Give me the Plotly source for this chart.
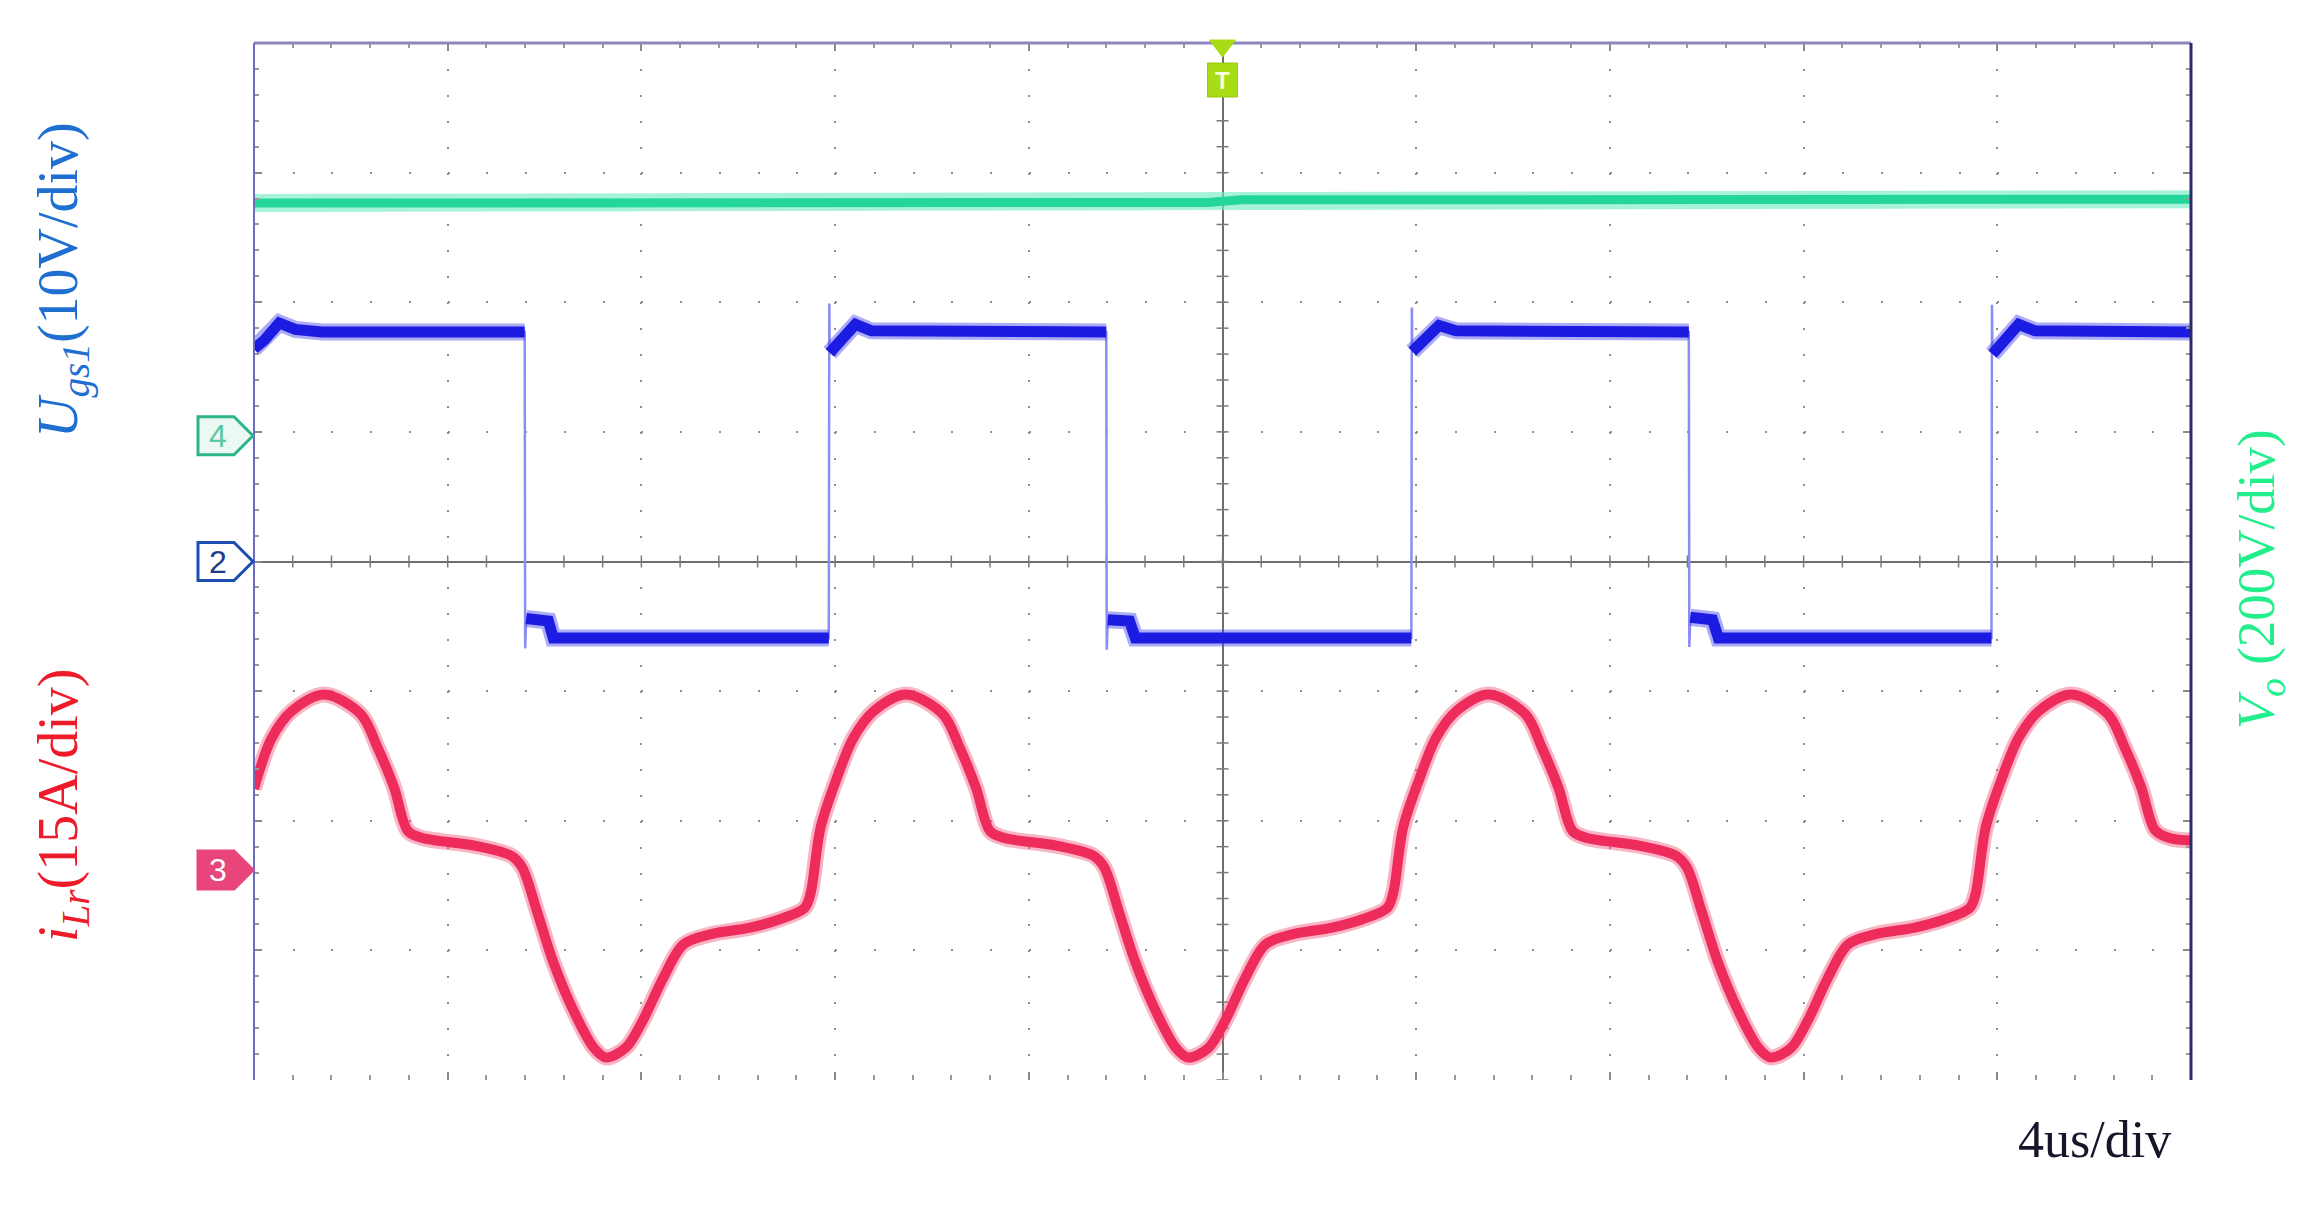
import plotly.graph_objects as go

# ---------------- data ----------------
# time in microseconds, trigger at 0, 4 us/div, 10 divisions
t_ugs = [-20.00, -19.78, -19.48, -19.15, -18.60, -16.80,
         -14.41, -14.40, -14.38, -13.92, -13.82, -11.20,
         -8.13, -8.12, -8.11, -7.58, -7.25, -5.10,
         -2.40, -2.39, -2.37, -1.92, -1.80, 0.90,
         3.90, 3.91, 3.92, 4.47, 4.82, 7.10,
         9.63, 9.64, 9.66, 10.12, 10.24, 12.90,
         15.88, 15.89, 15.90, 16.44, 16.78, 20.00]
v_ugs = [16.4, 17.1, 18.4, 17.9, 17.7, 17.7,
         17.7, -6.7, -4.4, -4.6, -5.9, -5.9,
         -5.9, 19.9, 16.1, 18.3, 17.8, 17.7,
         17.7, -6.8, -4.5, -4.6, -5.9, -6.0,
         -5.9, 19.6, 16.2, 18.2, 17.8, 17.7,
         17.7, -6.6, -4.3, -4.5, -5.9, -5.9,
         -5.9, 19.8, 16.0, 18.3, 17.8, 17.7]

t_ilr = [-20.00, -19.64, -19.22, -18.55, -17.79, -17.45, -17.11, -16.82, -16.52, -15.43,
         -14.67, -14.46, -14.16, -13.83, -13.40, -12.98, -12.73, -12.31, -11.97, -11.55,
         -11.13, -10.54, -9.78, -9.14,
         -8.63, -8.51, -8.30, -7.96, -7.62, -7.20, -6.53, -5.77, -5.43, -5.09,
         -4.80, -4.50, -3.41, -2.65, -2.44, -2.14, -1.81, -1.38, -0.96, -0.71,
         -0.29, 0.05, 0.47, 0.89, 1.48, 2.24, 2.89,
         3.40, 3.52, 3.73, 4.07, 4.41, 4.83, 5.50, 6.26, 6.60, 6.94,
         7.23, 7.53, 8.62, 9.38, 9.59, 9.89, 10.22, 10.65, 11.07, 11.32,
         11.74, 12.08, 12.50, 12.92, 13.51, 14.27, 14.92,
         15.43, 15.55, 15.76, 16.10, 16.44, 16.86, 17.53, 18.29, 18.63, 18.97,
         19.26, 19.56, 20.00]
i_ilr = [9.4, 15.2, 18.4, 20.3, 18.0, 14.2, 9.6, 4.5, 3.7, 2.8,
         1.6, 0.3, -4.7, -10.5, -16.3, -20.6, -21.7, -20.5, -17.4, -12.5,
         -8.6, -7.4, -6.7, -5.7,
         -4.4, -2.8, 4.9, 10.7, 15.3, 18.4, 20.3, 18.0, 14.2, 9.5,
         4.5, 3.7, 2.8, 1.6, 0.3, -4.8, -10.5, -16.3, -20.6, -21.7,
         -20.6, -17.5, -12.5, -8.6, -7.4, -6.7, -5.7,
         -4.4, -2.8, 4.9, 10.6, 15.3, 18.4, 20.3, 18.0, 14.1, 9.5,
         4.5, 3.7, 2.8, 1.6, 0.3, -4.7, -10.5, -16.3, -20.6, -21.7,
         -20.6, -17.5, -12.5, -8.6, -7.4, -6.7, -5.7,
         -4.4, -2.8, 4.9, 10.7, 15.3, 18.4, 20.3, 18.0, 14.2, 9.6,
         4.6, 3.7, 3.4]

t_vo = [-20.0, -0.3, 0.4, 20.0]
v_vo = [359, 360, 364, 365]

# channel settings (scale per division, ground-marker offset in divisions)
CH2_SCALE, CH2_OFFSET = 10.0, 0.0     # Ugs1, V/div
CH3_SCALE, CH3_OFFSET = 15.0, -2.38   # iLr, A/div
CH4_SCALE, CH4_OFFSET = 200.0, 0.97   # Vo, V/div
T_DIV = 4.0                           # us/div

# ---------------- geometry ----------------
BODY = 8                  # default page margin of the html body
W, H = 2313 - 2 * BODY, 1209 - 2 * BODY
PLOT_L, PLOT_T, PW, PH = 254, 43, 1937, 1037   # wanted plot box in window pixels
ML, MT = PLOT_L - BODY, PLOT_T - BODY
MR, MB = W - ML - PW, H - MT - PH
X_RANGE = [-5 * T_DIV, 5 * T_DIV]
Y_RANGE = [-4, 4]
minor_x_px = PW / 50.0
minor_y_px = PH / 40.0


def to_div(vals, off, scale):
    return [off + v / scale for v in vals]


def px2paper(px, py):
    # px, py are window pixel positions
    return (px - PLOT_L) / PW, (PLOT_T + PH - py) / PH


y_ugs = to_div(v_ugs, CH2_OFFSET, CH2_SCALE)
y_ilr = to_div(i_ilr, CH3_OFFSET, CH3_SCALE)
y_vo = to_div(v_vo, CH4_OFFSET, CH4_SCALE)

# thick plateau trace for the gate signal: break at the fast edges
bx, by = [], []
for k, (t, v) in enumerate(zip(t_ugs, y_ugs)):
    if k > 0 and t - t_ugs[k - 1] < 0.025:
        bx.append(None)
        by.append(None)
    bx.append(t)
    by.append(v)

fig = go.Figure()
# Vo (green)
fig.add_trace(go.Scatter(x=t_vo, y=y_vo, mode="lines", hoverinfo="skip",
                         line=dict(color="rgba(120,236,196,0.65)", width=18)))
fig.add_trace(go.Scatter(x=t_vo, y=y_vo, mode="lines", hoverinfo="skip",
                         line=dict(color="#25D69C", width=9)))
# Ugs1 (blue)
fig.add_trace(go.Scatter(x=t_ugs, y=y_ugs, mode="lines", hoverinfo="skip",
                         line=dict(color="#8C8CF6", width=2.5)))
fig.add_trace(go.Scatter(x=bx, y=by, mode="lines", hoverinfo="skip",
                         line=dict(color="rgba(70,70,236,0.45)", width=17)))
fig.add_trace(go.Scatter(x=bx, y=by, mode="lines", hoverinfo="skip",
                         line=dict(color="#1B1BE2", width=11)))
# iLr (red)
fig.add_trace(go.Scatter(x=t_ilr, y=y_ilr, mode="lines", hoverinfo="skip",
                         line=dict(color="rgba(242,90,128,0.45)", width=16,
                                   shape="spline", smoothing=0.9)))
fig.add_trace(go.Scatter(x=t_ilr, y=y_ilr, mode="lines", hoverinfo="skip",
                         line=dict(color="#EE2C5C", width=10,
                                   shape="spline", smoothing=0.9)))

shapes = []
# borders
shapes.append(dict(type="line", xref="paper", yref="paper", x0=0, x1=1, y0=1, y1=1,
                   line=dict(color="#8E86BE", width=3), layer="above"))
shapes.append(dict(type="line", xref="paper", yref="paper", x0=0, x1=0, y0=0, y1=1,
                   line=dict(color="#6C6CC6", width=2), layer="above"))
shapes.append(dict(type="line", xref="paper", yref="paper", x0=1, x1=1, y0=0, y1=1,
                   line=dict(color="#2B2B6B", width=3), layer="above"))

# small tick marks on the centre cross-hair
tick_h = 6.0 / PH * (Y_RANGE[1] - Y_RANGE[0])
tick_w = 6.0 / PW * (X_RANGE[1] - X_RANGE[0])
n = 0
while n <= 50:
    t = X_RANGE[0] + n * T_DIV / 5.0
    shapes.append(dict(type="line", xref="x", yref="y", x0=t, x1=t, y0=-tick_h, y1=tick_h,
                       line=dict(color="#7A7A7A", width=1.5), layer="between"))
    n += 1
n = 0
while n <= 40:
    yv = Y_RANGE[0] + n * 0.2
    shapes.append(dict(type="line", xref="x", yref="y", x0=-tick_w, x1=tick_w, y0=yv, y1=yv,
                       line=dict(color="#7A7A7A", width=1.5), layer="between"))
    n += 1

annotations = []


def add_tag(offset, outline, fill, txt, txtcolor):
    py = PLOT_T + (Y_RANGE[1] - offset) * PH / (Y_RANGE[1] - Y_RANGE[0])
    pts = [(198, py - 19), (234, py - 19), (253, py), (234, py + 19), (198, py + 19)]
    pp = [px2paper(a, b) for a, b in pts]
    path = "M " + " L ".join(f"{a:.5f},{b:.5f}" for a, b in pp) + " Z"
    shapes.append(dict(type="path", xref="paper", yref="paper", path=path,
                       fillcolor=fill, line=dict(color=outline, width=3), layer="above"))
    cx, cy = px2paper(218, py)
    annotations.append(dict(x=cx, y=cy, xref="paper", yref="paper", text=txt,
                            showarrow=False, xanchor="center", yanchor="middle",
                            font=dict(family="Liberation Sans", size=32, color=txtcolor)))


add_tag(CH4_OFFSET, "#2DB58A", "#ECF8F2", "4", "#5CC9A0")
add_tag(CH2_OFFSET, "#1E4FB0", "#FFFFFF", "2", "#1E3C8C")
add_tag(CH3_OFFSET, "#E8457A", "#E8457A", "3", "#FFFFFF")

# trigger marker "T" at t = 0
tx = PLOT_L + (0 - X_RANGE[0]) / (X_RANGE[1] - X_RANGE[0]) * PW
tri = [px2paper(tx - 13, 40), px2paper(tx + 13, 40), px2paper(tx, 57)]
shapes.append(dict(type="path", xref="paper", yref="paper",
                   path="M " + " L ".join(f"{a:.5f},{b:.5f}" for a, b in tri) + " Z",
                   fillcolor="#A8DC14", line=dict(color="#A8DC14", width=1), layer="above"))
b0 = px2paper(tx - 15, 97)
b1 = px2paper(tx + 15, 63)
shapes.append(dict(type="rect", xref="paper", yref="paper", x0=b0[0], y0=b0[1], x1=b1[0], y1=b1[1],
                   fillcolor="#A8DC14", line=dict(color="#98CC10", width=1), layer="above"))
tc = px2paper(tx, 80)
annotations.append(dict(x=tc[0], y=tc[1], xref="paper", yref="paper", text="<b>T</b>",
                        showarrow=False, xanchor="center", yanchor="middle",
                        font=dict(family="Liberation Sans", size=24, color="#F4FFE0")))

# channel labels
serif = "Liberation Serif"
p = px2paper(62, 280)
annotations.append(dict(x=p[0], y=p[1], xref="paper", yref="paper", textangle=-90,
                        text="<i>U</i><sub><i>gs1</i></sub>(10V/div)", showarrow=False,
                        xanchor="center", yanchor="middle",
                        font=dict(family=serif, size=56, color="#1F6FD1")))
p = px2paper(62, 806)
annotations.append(dict(x=p[0], y=p[1], xref="paper", yref="paper", textangle=-90,
                        text="<i>i</i><sub><i>Lr</i></sub>(15A/div)", showarrow=False,
                        xanchor="center", yanchor="middle",
                        font=dict(family=serif, size=56, color="#EE1C2A")))
p = px2paper(2260, 579)
annotations.append(dict(x=p[0], y=p[1], xref="paper", yref="paper", textangle=-90,
                        text="<i>V</i><sub><i>o</i></sub> (200V/div)", showarrow=False,
                        xanchor="center", yanchor="middle",
                        font=dict(family=serif, size=53, color="#22EE8C")))
p = px2paper(2094, 1139)
annotations.append(dict(x=p[0], y=p[1], xref="paper", yref="paper",
                        text="4us/div", showarrow=False,
                        xanchor="center", yanchor="middle",
                        font=dict(family=serif, size=52, color="#16162A")))

fig.update_layout(
    width=W, height=H,
    margin=dict(l=ML, r=MR, t=MT, b=MB, pad=0),
    paper_bgcolor="white", plot_bgcolor="white",
    showlegend=False,
    shapes=shapes, annotations=annotations,
    xaxis=dict(range=X_RANGE, dtick=T_DIV, tick0=0, showticklabels=False,
               showgrid=True, gridcolor="#8E8E8E", gridwidth=2,
               griddash=f"2px,{minor_y_px - 2:.3f}px",
               zeroline=True, zerolinecolor="#6E6E6E", zerolinewidth=2,
               showline=False, mirror="ticks", ticks="inside", ticklen=8,
               tickcolor="#8A8A8A", tickwidth=1.5,
               minor=dict(dtick=T_DIV / 5, ticks="inside", ticklen=5,
                          tickcolor="#9A9A9A", tickwidth=1.5, showgrid=False),
               fixedrange=True),
    yaxis=dict(range=Y_RANGE, dtick=1, tick0=0, showticklabels=False,
               showgrid=True, gridcolor="#8E8E8E", gridwidth=2,
               griddash=f"2px,{minor_x_px - 2:.3f}px",
               zeroline=True, zerolinecolor="#6E6E6E", zerolinewidth=2,
               showline=False, mirror="ticks", ticks="inside", ticklen=8,
               tickcolor="#8A8A8A", tickwidth=1.5,
               minor=dict(dtick=0.2, ticks="inside", ticklen=5,
                          tickcolor="#9A9A9A", tickwidth=1.5, showgrid=False),
               fixedrange=True),
)

fig.write_html("out.html")
